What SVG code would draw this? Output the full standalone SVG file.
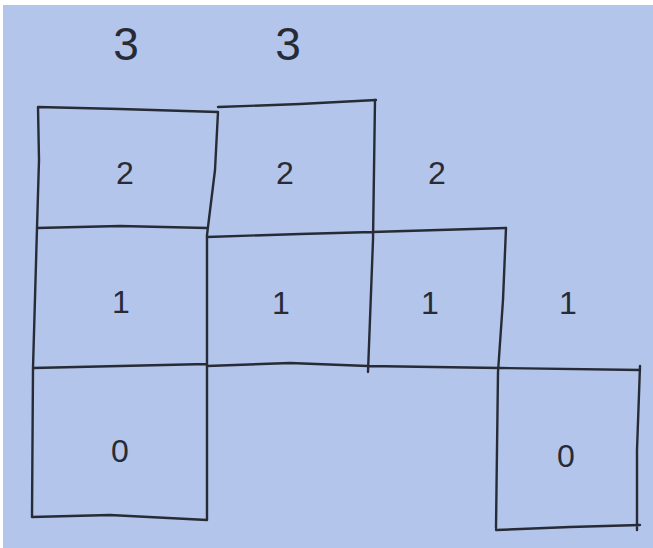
<svg xmlns="http://www.w3.org/2000/svg" width="653" height="548" viewBox="0 0 653 548">
<style>
.ln{fill:none;stroke:#262b36;stroke-width:2.4;stroke-linecap:round;stroke-linejoin:round}
.t{font-family:"Liberation Sans","DejaVu Sans",sans-serif;fill:#262b36;text-anchor:middle}
.big{font-size:46px}
.sm{font-size:32px}
</style>
<rect width="653" height="548" fill="#b3c5ea"/>
<rect width="653" height="5" fill="#ffffff"/>
<rect width="3" height="548" fill="#ffffff"/>
<g id="labels-top">
<text class="t big" x="126" y="60">3</text>
<text class="t big" x="288" y="60">3</text>
</g>
<g id="col1">
<path class="ln" d="M38,107 L120,109 L218,112 M38,107 L39,160 L37,228 L33,368 L32,517 L110,515 L207,520 M37,228 L120,226 L207,228 M33,368 L120,366 L207,364 M218,112 L215,170 L207,235 L207,520"/>
<text class="t sm" x="125" y="184">2</text>
<text class="t sm" x="121" y="313">1</text>
<text class="t sm" x="120" y="462">0</text>
</g>
<g id="col2">
<path class="ln" d="M218,107 L300,104 L376,100 M375,100 L373,240 L368,372 M207,237 L300,234 L372,232 L506,228 M207,366 L290,363 L368,366 L500,368 L640,370"/>
<text class="t sm" x="285" y="184">2</text>
<text class="t sm" x="281" y="314">1</text>
</g>
<g id="col3">
<path class="ln" d="M506,228 L503,300 L498,372 L496,528 M640,366 L637,450 L637,530 M496,530 L570,527 L640,525"/>
<text class="t sm" x="437" y="184">2</text>
<text class="t sm" x="430" y="314">1</text>
<text class="t sm" x="568" y="314">1</text>
<text class="t sm" x="566" y="467">0</text>
</g>
</svg>
